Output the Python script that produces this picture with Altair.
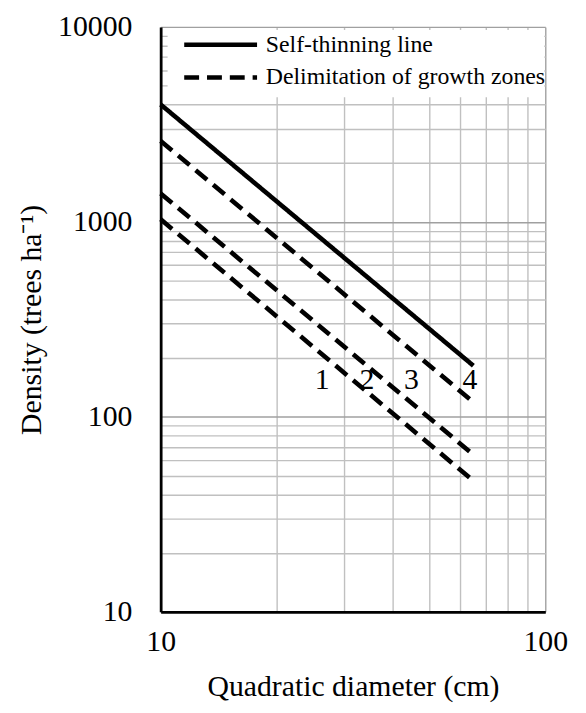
import altair as alt
import pandas as pd

# ---- data ----
diameters = [10, 65]                     # start / end of every line (cm)
self_thinning = [4000, 183]              # trees/ha
zone_line_a = [2600, 119]
zone_line_b = [1400, 64]
zone_line_c = [1030, 47]

zone_labels = ["1", "2", "3", "4"]
zone_label_x = [26.3, 34.4, 44.9, 63.7]
zone_label_y = [155, 155, 155, 155]

x_ticks = [10, 20, 30, 40, 50, 60, 70, 80, 90, 100]
y_ticks = [10, 20, 30, 40, 50, 60, 70, 80, 90,
           100, 200, 300, 400, 500, 600, 700, 800, 900,
           1000, 2000, 3000, 4000, 5000, 6000, 7000, 8000, 9000, 10000]

ST = "Self-thinning line"
DZ = "Delimitation of growth zones"

rows = []
for lid, kind, vals in [("st", ST, self_thinning), ("a", DZ, zone_line_a),
                        ("b", DZ, zone_line_b), ("c", DZ, zone_line_c)]:
    for d, v in zip(diameters, vals):
        rows.append({"line": lid, "type": kind, "d": d, "n": v})
lines_df = pd.DataFrame(rows)
labels_df = pd.DataFrame({"t": zone_labels, "d": zone_label_x, "n": zone_label_y})

FONT = "Liberation Serif"
W, H = 388, 590

xscale = alt.Scale(type="log", domain=[10, 100], nice=False)
yscale = alt.Scale(type="log", domain=[10, 10000], nice=False)

major_test = "abs(log(datum.value)/LN10 - round(log(datum.value)/LN10)) < 1e-6"
grid_color = {"condition": {"test": major_test, "value": "#a0a0a0"}, "value": "#c0c0c0"}

xaxis = alt.Axis(values=x_ticks, labelExpr=f"{major_test} ? format(datum.value, 'd') : ''",
                 title="Quadratic diameter (cm)", grid=True, gridColor=grid_color, gridWidth=1.4,
                 ticks=False, domainColor="black", domainWidth=2.8,
                 labelFont=FONT, labelFontSize=30, labelColor="black", labelPadding=15,
                 labelOverlap=False, labelFlush=False,
                 titleFont=FONT, titleFontSize=30, titleFontWeight="normal", titleColor="black",
                 titlePadding=15)
yaxis = alt.Axis(values=y_ticks, labelExpr=f"{major_test} ? format(datum.value, 'd') : ''",
                 title="Density (trees ha⁻¹)", grid=True, gridColor=grid_color, gridWidth=1.4,
                 ticks=False, domainColor="black", domainWidth=2.8,
                 labelFont=FONT, labelFontSize=30, labelColor="black", labelPadding=29,
                 labelOverlap=False, labelFlush=False,
                 titleFont=FONT, titleFontSize=30, titleFontWeight="normal", titleColor="black",
                 titlePadding=11)

# white box behind the legend
legend_bg = alt.Chart(pd.DataFrame({"k": [0]})).mark_rect(color="white").encode(
    x=alt.value(7), x2=alt.value(W - 1), y=alt.value(3), y2=alt.value(71)
)

lines = alt.Chart(lines_df).mark_line(color="black", strokeWidth=4.6, strokeCap="butt").encode(
    x=alt.X("d:Q", scale=xscale, axis=xaxis),
    y=alt.Y("n:Q", scale=yscale, axis=yaxis),
    detail="line:N",
    strokeDash=alt.StrokeDash(
        "type:N",
        scale=alt.Scale(domain=[ST, DZ], range=[[1, 0], [15, 8]]),
        legend=alt.Legend(
            title=None, orient="none", legendX=70, legendY=3, zindex=2,
            symbolType="M -5,0 H 1", symbolSize=600, symbolStrokeWidth=4.6,
            symbolStrokeColor="black", symbolFillColor="transparent",
            labelFont=FONT, labelFontSize=24, labelColor="black", labelOffset=6,
            rowPadding=6, labelLimit=400, padding=0,
        ),
    ),
)

texts = alt.Chart(labels_df).mark_text(font=FONT, fontSize=30, color="black",
                                       align="center", baseline="middle").encode(
    x=alt.X("d:Q", scale=xscale), y=alt.Y("n:Q", scale=yscale), text="t:N"
)

chart = alt.layer(legend_bg, lines, texts).properties(
    width=W, height=H, padding={"left": 9, "top": 1, "right": 10, "bottom": 5},
    background="white",
).configure_view(strokeWidth=0)

chart.save("out.html", embed_options={"renderer": "svg", "actions": False})
